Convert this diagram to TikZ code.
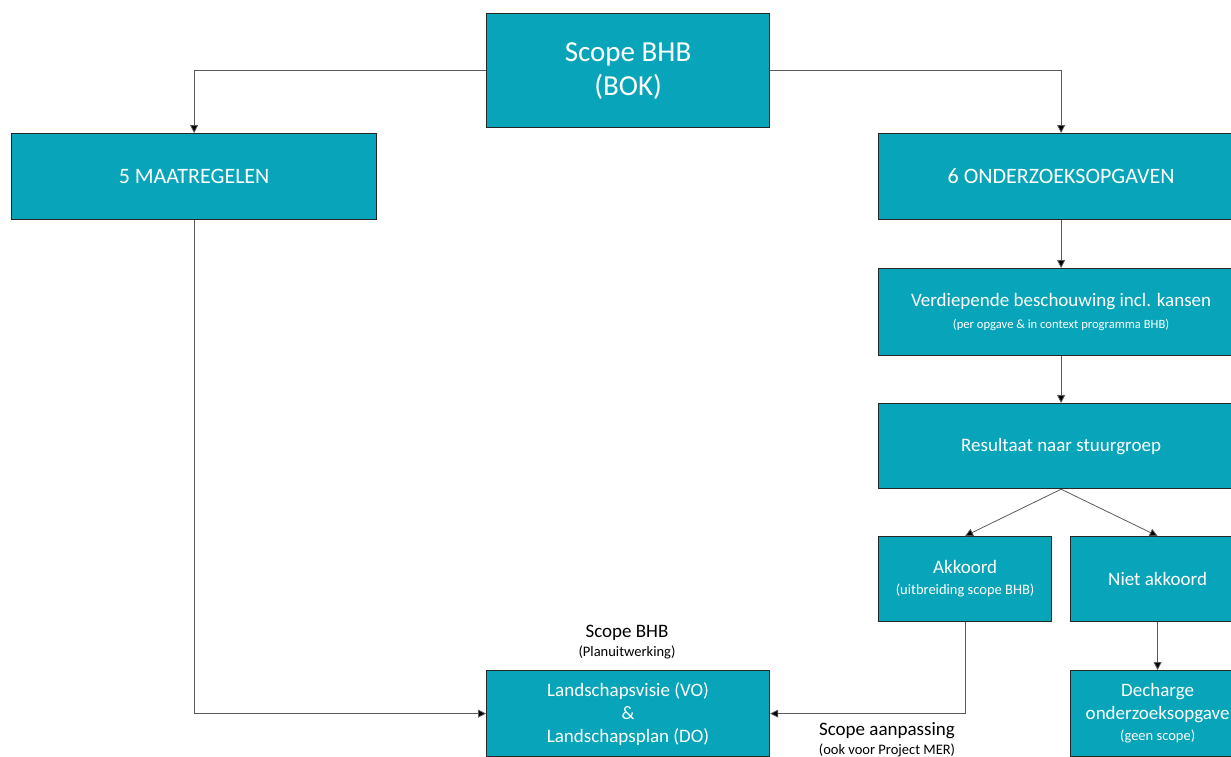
\documentclass[tikz,border=0pt]{standalone}
\usepackage{fontspec}
\setmainfont{Carlito}
\usetikzlibrary{positioning, arrows.meta, calc}
\definecolor{bhbteal}{RGB}{8,164,185}
\definecolor{linegray}{RGB}{90,90,90}
\tikzset{
	x=1pt, y=-1pt,
	box/.style={draw=black!85, line width=1.2pt, fill=bhbteal, text=white, align=center, anchor=north west, inner sep=0pt},
	link/.style={draw=linegray, line width=0.8pt, -{Triangle[length=8pt, width=8pt, fill=black]}},
	big/.style={font=\fontsize{29}{34}\selectfont},
	caps/.style={font=\fontsize{22}{26}\selectfont},
	mid/.style={font=\fontsize{19}{23}\selectfont},
	lbl/.style={font=\fontsize{19}{23}\selectfont, align=center, text=black},
}
\newcommand{\subtxt}{\fontsize{14.5}{17}\selectfont}
\newcommand{\subsmall}{\fontsize{12.6}{15}\selectfont}

\begin{document}
\begin{tikzpicture}
			\useasboundingbox (0,0) rectangle (1231,756);
			\clip (0,0) rectangle (1231,756);
			\node [box, big, minimum width=283pt, minimum height=114pt] (SCOPEbok) at (486,13) {Scope BHB\\(BOK)};
			\node [box, caps, minimum width=365pt, minimum height=86pt] (MAAT) at (11,133) {5 MAATREGELEN};
			\node [box, caps, minimum width=365pt, minimum height=86pt] (ONDERZ) at (878,133) {6 ONDERZOEKSOPGAVEN};
			\node [box, mid, minimum width=365pt, minimum height=87pt] (VERDIEP) at (878,268) {Verdiepende beschouwing incl. kansen\\[-1pt]{\subsmall (per opgave \& in context programma BHB)}};
			\node [box, mid, minimum width=365pt, minimum height=85pt] (RESULT) at (878,403) {Resultaat naar stuurgroep};
			\node [box, mid, minimum width=173pt, minimum height=85pt] (AKK) at (878,536) {Akkoord\\[-2pt]{\subtxt (uitbreiding scope BHB)}};
			\node [box, mid, minimum width=174pt, minimum height=85pt] (NIETakk) at (1070,536) {Niet akkoord};
			\node [box, mid, minimum width=174pt, minimum height=86pt] (DECH) at (1070,670) {Decharge\\onderzoeksopgave\\[-2pt]{\subtxt (geen scope)}};
			\node [box, mid, minimum width=283pt, minimum height=86pt] (LAND) at (486,670) {Landschapsvisie (VO)\\\&\\Landschapsplan (DO)};
			\node [lbl] (SCOPEplan) at (627,642) {Scope BHB\\[-4pt]{\subtxt (Planuitwerking)}};
			\node [lbl] (AANPAS) at (887,740) {Scope aanpassing\\[-4pt]{\subtxt (ook voor Project MER)}};
			
			\draw [link] (SCOPEbok.west) -| (MAAT.north);
			\draw [link] (SCOPEbok.east) -| (ONDERZ.north);
			\draw [link] (ONDERZ) -- (VERDIEP);
			\draw [link] (VERDIEP) -- (RESULT);
			\draw [link] (RESULT.south) -- (AKK.north);
			\draw [link] (RESULT.south) -- (NIETakk.north);
			\draw [link] (NIETakk) -- (DECH);
			\draw [link] (AKK.south) |- (LAND.east);
			\draw [link] (MAAT.south) |- (LAND.west);
		\end{tikzpicture}
\end{document}
